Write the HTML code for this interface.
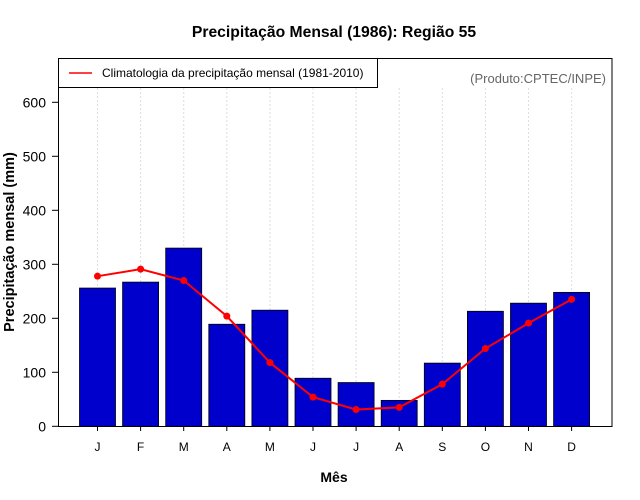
<!DOCTYPE html>
<html><head><meta charset="utf-8"><style>body{margin:0;background:#fff}svg{display:block;font-family:"Liberation Sans",sans-serif}</style></head>
<body>
<svg id="c" width="640" height="500">
<rect x="0" y="0" width="640" height="500" fill="#fff"/>
<text x="334" y="37" text-anchor="middle" font-size="15.7" font-weight="bold">Precipitação Mensal (1986): Região 55</text>
<text x="334" y="482" text-anchor="middle" font-size="14" font-weight="bold">Mês</text>
<text transform="translate(14,242) rotate(-90)" text-anchor="middle" font-size="14.5" font-weight="bold">Precipitação mensal (mm)</text>
<g id="grid"></g><g id="bars"></g><g id="line"></g><g id="axes"></g>
<rect x="58.5" y="58.5" width="553.5" height="368" fill="none" stroke="#000"/>
<g>
<rect x="58.5" y="58.5" width="319" height="29" fill="#fff" stroke="#000"/>
<line x1="69" y1="73" x2="92" y2="73" stroke="#f00" stroke-width="1.5"/>
<text x="102" y="77" font-size="12">Climatologia da precipitação mensal (1981-2010)</text>
</g>
<text x="606" y="83" text-anchor="end" font-size="13" fill="#666">(Produto:CPTEC/INPE)</text>
</svg>
<script>
const months=["J","F","M","A","M","J","J","A","S","O","N","D"];
const precip=[256,267,330,189,215,89,81,48,117,213,228,248];
const clim=[278,291,270,204,118,54,31,35,78,144,191,235];
const yTicks=[0,100,200,300,400,500,600];
const NS="http://www.w3.org/2000/svg";
const x=i=>97.5+i*43.1, y=v=>426.3-v*0.54;
function mk(p,t,a){const e=document.createElementNS(NS,t);for(const k in a)e.setAttribute(k,a[k]);document.getElementById(p).appendChild(e);return e;}
months.forEach((m,i)=>{
 let g=mk('grid','line',{x1:x(i),x2:x(i),y1:88,y2:426,stroke:'#ddd','stroke-dasharray':'2,2'});
 
 
 let b=mk('bars','rect',{x:x(i)-18,y:y(precip[i]),width:36,height:426.3-y(precip[i]),fill:'#0000CD',stroke:'#000','stroke-width':0.8});
 
 
 let t=mk('axes','line',{x1:x(i),x2:x(i),y1:426,y2:431,stroke:'#000'});
 
 
 let l=mk('axes','text',{x:x(i),y:451,'text-anchor':'middle','font-size':12});
 l.textContent=m;
 
 
});
let pl=mk('line','polyline',{points:clim.map((v,i)=>x(i)+','+y(v)).join(' '),fill:'none',stroke:'#f00','stroke-width':2});


clim.forEach((v,i)=>{
 let c=mk('line','circle',{cx:x(i),cy:y(v),r:3.5,fill:'#f00'});
 
 
});
yTicks.forEach(v=>{
 let t=mk('axes','line',{x1:52,x2:58.5,y1:y(v),y2:y(v),stroke:'#000'});
 
 
 let l=mk('axes','text',{x:46,y:y(v)+5,'text-anchor':'end','font-size':14});
 l.textContent=v;
 
 
});
</script>
</body></html>
